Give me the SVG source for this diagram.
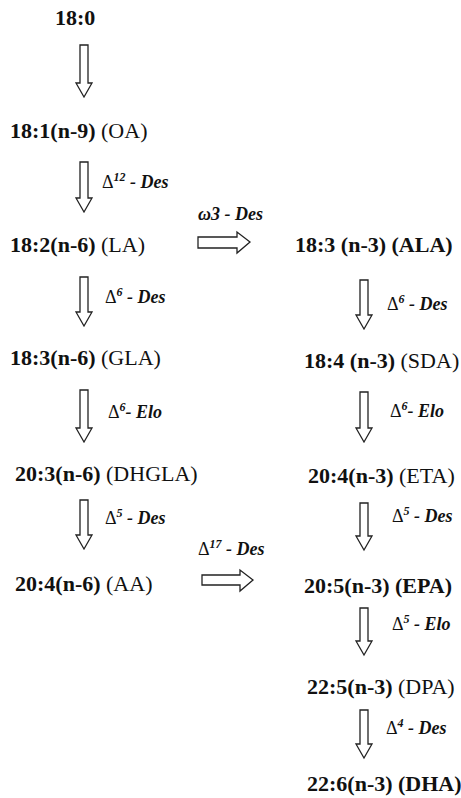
<svg xmlns="http://www.w3.org/2000/svg" width="461" height="798" viewBox="0 0 461 798">
<style>
.n{font-family:"Liberation Serif","Times New Roman",serif;font-size:22px;fill:#111;font-weight:bold}
.r{font-weight:normal}
.l{font-family:"Liberation Serif","Times New Roman",serif;font-size:18px;fill:#111;font-weight:bold;font-style:italic}
.d{font-weight:normal;font-style:normal}
.s{font-size:12px}
.a{fill:#fff;stroke:#222;stroke-width:1.3;stroke-linejoin:miter}
</style>
<rect width="461" height="798" fill="#fff"/>
<g id="connectors">
<path class="a" d="M80,45H88V83H92L84,97L76,83H80Z"/>
<path class="a" d="M80,162H88V198H92L84,212L76,198H80Z"/>
<path class="a" d="M80,277H88V312H92L84,326L76,312H80Z"/>
<path class="a" d="M80,390H88V428H92L84,442L76,428H80Z"/>
<path class="a" d="M80,500H88V535H92L84,549L76,535H80Z"/>
<path class="a" d="M360,280H368V315H372L364,329L356,315H360Z"/>
<path class="a" d="M360,392H368V428H372L364,442L356,428H360Z"/>
<path class="a" d="M360,503H368V536H372L364,550L356,536H360Z"/>
<path class="a" d="M360,608H368V641H372L364,655L356,641H360Z"/>
<path class="a" d="M360,710H368V744H372L364,758L356,744H360Z"/>
<path class="a" d="M198,237H237V232L250,242L237,253V248H198Z"/>
<path class="a" d="M202,575H240V570L253,580L240,591V585H202Z"/>
<g id="labels">
<text class="l" x="102" y="188"><tspan class="d">Δ</tspan><tspan class="s" dy="-7">12</tspan><tspan dy="7"> - Des</tspan></text>
<text class="l" x="105" y="303"><tspan class="d">Δ</tspan><tspan class="s" dy="-7">6</tspan><tspan dy="7"> - Des</tspan></text>
<text class="l" x="108" y="418"><tspan class="d">Δ</tspan><tspan class="s" dy="-7">6</tspan><tspan dy="7">- Elo</tspan></text>
<text class="l" x="105" y="524"><tspan class="d">Δ</tspan><tspan class="s" dy="-7">5</tspan><tspan dy="7"> - Des</tspan></text>
<text class="l" x="198" y="220">ω3 - Des</text>
<text class="l" x="198" y="555"><tspan class="d">Δ</tspan><tspan class="s" dy="-7">17</tspan><tspan dy="7"> - Des</tspan></text>
<text class="l" x="387" y="310"><tspan class="d">Δ</tspan><tspan class="s" dy="-7">6</tspan><tspan dy="7"> - Des</tspan></text>
<text class="l" x="390" y="417"><tspan class="d">Δ</tspan><tspan class="s" dy="-7">6</tspan><tspan dy="7">- Elo</tspan></text>
<text class="l" x="392" y="522"><tspan class="d">Δ</tspan><tspan class="s" dy="-7">5</tspan><tspan dy="7"> - Des</tspan></text>
<text class="l" x="392" y="630"><tspan class="d">Δ</tspan><tspan class="s" dy="-7">5</tspan><tspan dy="7"> - Elo</tspan></text>
<text class="l" x="386" y="734"><tspan class="d">Δ</tspan><tspan class="s" dy="-7">4</tspan><tspan dy="7"> - Des</tspan></text>
</g>
</g>
<g id="n180"><text class="n" x="55" y="25">18:0</text></g>
<g id="n181"><text class="n" x="10" y="138">18:1(n-9)<tspan class="r"> (OA)</tspan></text></g>
<g id="n182"><text class="n" x="10" y="252">18:2(n-6)<tspan class="r"> (LA)</tspan></text></g>
<g id="n183n6"><text class="n" x="10" y="365">18:3(n-6)<tspan class="r"> (GLA)</tspan></text></g>
<g id="n203"><text class="n" x="15" y="481">20:3(n-6)<tspan class="r"> (DHGLA)</tspan></text></g>
<g id="n204n6"><text class="n" x="15" y="591">20:4(n-6)<tspan class="r"> (AA)</tspan></text></g>
<g id="n183n3"><text class="n" x="295" y="252">18:3 (n-3) (ALA)</text></g>
<g id="n184"><text class="n" x="304" y="368">18:4 (n-3)<tspan class="r"> (SDA)</tspan></text></g>
<g id="n204n3"><text class="n" x="308" y="483">20:4(n-3)<tspan class="r"> (ETA)</tspan></text></g>
<g id="n205"><text class="n" x="304" y="593">20:5(n-3) (EPA)</text></g>
<g id="n225"><text class="n" x="307" y="694">22:5(n-3)<tspan class="r"> (DPA)</tspan></text></g>
<g id="n226"><text class="n" x="307" y="791">22:6(n-3) (DHA)</text></g>
</svg>
